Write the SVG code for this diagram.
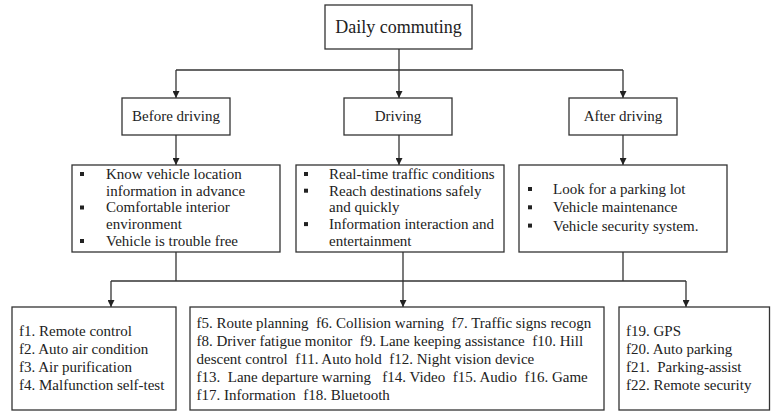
<svg xmlns="http://www.w3.org/2000/svg" width="771" height="412" viewBox="0 0 771 412">
<style>
.box{fill:#fff;stroke:#333;stroke-width:1.3}
.ln{fill:none;stroke:#333;stroke-width:1.3}
text{font-family:"Liberation Serif","Times New Roman",serif;fill:#222}
.t15{font-size:15px}
.t18{font-size:18px}
.b{fill:#222}
</style>
<defs>
<marker id="ah" viewBox="0 0 10 10" refX="10" refY="5" markerWidth="7" markerHeight="7" markerUnits="userSpaceOnUse" orient="auto">
<path d="M0,0 L10,5 L0,10 Z" fill="#222"/>
</marker>
</defs>
<g id="connectors">
<line class="ln" x1="399" y1="49" x2="399" y2="70"/>
<line class="ln" x1="176" y1="70" x2="623" y2="70"/>
<line class="ln" x1="176" y1="70" x2="176" y2="98" marker-end="url(#ah)"/>
<line class="ln" x1="399" y1="70" x2="399" y2="98" marker-end="url(#ah)"/>
<line class="ln" x1="623" y1="70" x2="623" y2="98" marker-end="url(#ah)"/>
<line class="ln" x1="176" y1="135" x2="176" y2="165" marker-end="url(#ah)"/>
<line class="ln" x1="399" y1="135" x2="399" y2="165" marker-end="url(#ah)"/>
<line class="ln" x1="623" y1="135" x2="623" y2="165" marker-end="url(#ah)"/>
<line class="ln" x1="176" y1="252" x2="176" y2="281"/>
<line class="ln" x1="623" y1="252" x2="623" y2="281"/>
<line class="ln" x1="111" y1="281" x2="686" y2="281"/>
<line class="ln" x1="111" y1="281" x2="111" y2="307" marker-end="url(#ah)"/>
<line class="ln" x1="403" y1="252" x2="403" y2="307" marker-end="url(#ah)"/>
<line class="ln" x1="686" y1="281" x2="686" y2="307" marker-end="url(#ah)"/>
</g>
<g id="daily">
<rect class="box" x="325" y="5" width="147" height="44"/>
<text class="t18" x="398.5" y="33" text-anchor="middle">Daily commuting</text>
</g>
<g id="before">
<rect class="box" x="122" y="98" width="108" height="37"/>
<text class="t15" x="176" y="121" text-anchor="middle">Before driving</text>
</g>
<g id="driving">
<rect class="box" x="344" y="98" width="108" height="37"/>
<text class="t15" x="398" y="121" text-anchor="middle">Driving</text>
</g>
<g id="after">
<rect class="box" x="569" y="98" width="108" height="37"/>
<text class="t15" x="623" y="121" text-anchor="middle">After driving</text>
</g>
<g id="before-needs">
<rect class="box" x="72" y="165" width="208" height="87"/>
<rect class="b" x="80" y="172" width="4" height="4"/>
<rect class="b" x="80" y="205.5" width="4" height="4"/>
<rect class="b" x="80" y="239" width="4" height="4"/>
<text class="t15" x="106" y="179">Know vehicle location</text>
<text class="t15" x="106" y="195.7">information in advance</text>
<text class="t15" x="106" y="212.4">Comfortable interior</text>
<text class="t15" x="106" y="229.1">environment</text>
<text class="t15" x="106" y="245.8">Vehicle is trouble free</text>
</g>
<g id="driving-needs">
<rect class="box" x="296" y="165" width="208" height="87"/>
<rect class="b" x="304" y="172" width="4" height="4"/>
<rect class="b" x="304" y="188.7" width="4" height="4"/>
<rect class="b" x="304" y="222.1" width="4" height="4"/>
<text class="t15" x="329" y="179">Real-time traffic conditions</text>
<text class="t15" x="329" y="195.7">Reach destinations safely</text>
<text class="t15" x="329" y="212.4">and quickly</text>
<text class="t15" x="329" y="229.1">Information interaction and</text>
<text class="t15" x="329" y="245.8">entertainment</text>
</g>
<g id="after-needs">
<rect class="box" x="519" y="165" width="208" height="87"/>
<rect class="b" x="528" y="187" width="4" height="4"/>
<rect class="b" x="528" y="205.3" width="4" height="4"/>
<rect class="b" x="528" y="223.6" width="4" height="4"/>
<text class="t15" x="553" y="194">Look for a parking lot</text>
<text class="t15" x="553" y="212.3">Vehicle maintenance</text>
<text class="t15" x="553" y="230.6">Vehicle security system.</text>
</g>
<g id="before-functions">
<rect class="box" x="12" y="307" width="164" height="103"/>
<text class="t15" x="19" y="336">f1. Remote control</text>
<text class="t15" x="19" y="354">f2. Auto air condition</text>
<text class="t15" x="19" y="372">f3. Air purification</text>
<text class="t15" x="19" y="390">f4. Malfunction self-test</text>
</g>
<g id="driving-functions">
<rect class="box" x="190" y="307" width="414" height="103"/>
<text class="t15" x="196.5" y="328" xml:space="preserve">f5. Route planning  f6. Collision warning  f7. Traffic signs recogn</text>
<text class="t15" x="196.5" y="346.1" xml:space="preserve">f8. Driver fatigue monitor  f9. Lane keeping assistance  f10. Hill</text>
<text class="t15" x="196.5" y="364.2" xml:space="preserve">descent control  f11. Auto hold  f12. Night vision device</text>
<text class="t15" x="196.5" y="382.3" xml:space="preserve">f13.  Lane departure warning   f14. Video  f15. Audio  f16. Game</text>
<text class="t15" x="196.5" y="400.4" xml:space="preserve">f17. Information  f18. Bluetooth</text>
</g>
<g id="after-functions">
<rect class="box" x="619" y="307" width="150.5" height="103"/>
<text class="t15" x="626" y="335.5">f19. GPS</text>
<text class="t15" x="626" y="353.7">f20. Auto parking</text>
<text class="t15" x="626" y="371.9" xml:space="preserve">f21.  Parking-assist</text>
<text class="t15" x="626" y="390">f22. Remote security</text>
</g>
</svg>
